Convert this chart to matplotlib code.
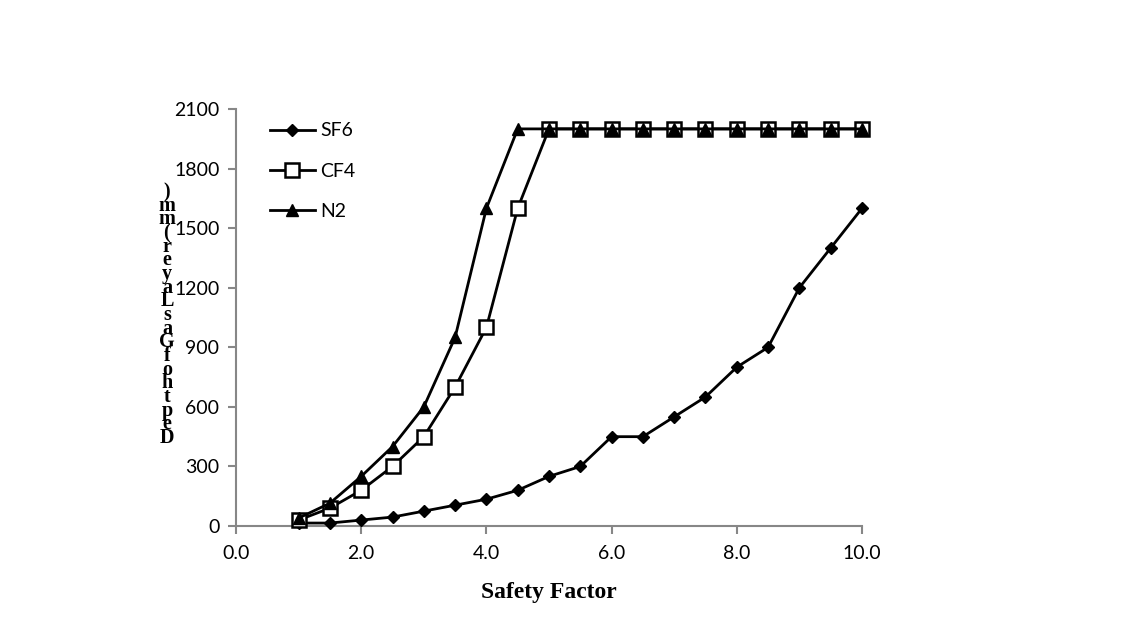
import matplotlib
matplotlib.use('Agg')
import matplotlib.pyplot as plt
import numpy as np

# safety factor vs depth of gas layer
factor = [1.0, 1.5, 2.0, 2.5, 3.0, 3.5, 4.0, 4.5, 5.0, 5.5, 6.0, 6.5, 7.0, 7.5, 8.0, 8.5, 9.0, 9.5, 10.0]
sf6 = [15, 15, 30, 45, 75, 105, 135, 180, 250, 300, 450, 450, 550, 650, 800, 900, 1200, 1400, 1600]
cf4 = [30, 90, 180, 300, 450, 700, 1000, 1600, 2000, 2000, 2000, 2000, 2000, 2000, 2000, 2000, 2000, 2000, 2000]
n2 = [40, 115, 250, 400, 600, 950, 1600, 2000, 2000, 2000, 2000, 2000, 2000, 2000, 2000, 2000, 2000, 2000, 2000]
ylabel = 'Depth of Gas Layer (mm)'

fig = plt.figure(figsize=(11.25, 6.38), dpi=100)
ax = fig.add_axes([0.2098, 0.1755, 0.5564, 0.6536])

ax.plot(factor, sf6, color='k', lw=2, marker='D', ms=6.5, label='SF6', clip_on=False, zorder=3)
ax.plot(factor, cf4, color='k', lw=2, marker='s', ms=10, mfc='white', mew=1.8, label='CF4', clip_on=False, zorder=4)
ax.plot(factor, n2, color='k', lw=2, marker='^', ms=8, label='N2', clip_on=False, zorder=5)

ax.set_xlim(0, 10)
ax.set_ylim(0, 2100)
ax.set_xticks(np.arange(0, 10.1, 2))
ax.set_xticklabels(['%.1f' % v for v in np.arange(0, 10.1, 2)])
ax.set_yticks(np.arange(0, 2101, 300))

for s in ['top', 'right']:
    ax.spines[s].set_visible(False)
for s in ['left', 'bottom']:
    ax.spines[s].set_color('#878787')
    ax.spines[s].set_linewidth(1.5)
ax.tick_params(direction='out', length=6, width=1.5, color='#878787',
               labelsize=14, labelcolor='k')
ax.tick_params(axis='x', pad=8)
ax.tick_params(axis='y', pad=6)
for lab in ax.get_xticklabels() + ax.get_yticklabels():
    lab.set_family('Lato')

leg = ax.legend(loc='upper left', bbox_to_anchor=(0.026, 1.01), frameon=False,
                prop={'family': 'Lato', 'size': 14}, handlelength=2.3,
                labelspacing=1.2, handletextpad=0.3)

ax.set_xlabel('Safety Factor', family='Liberation Serif', weight='bold', size=17, labelpad=14)

# stacked upright characters, bottom to top
chars = [c for c in ylabel if c != ' ']
y0 = 1 - 438 / 638
y1 = 1 - 192 / 638
step = (y1 - y0) / (len(chars) - 1)
for i, c in enumerate(chars):
    fig.text(167 / 1125, y0 + i * step, c, family='Liberation Serif', weight='bold',
             size=14.5, ha='center', va='center')

fig.savefig('out.png', dpi=100)
